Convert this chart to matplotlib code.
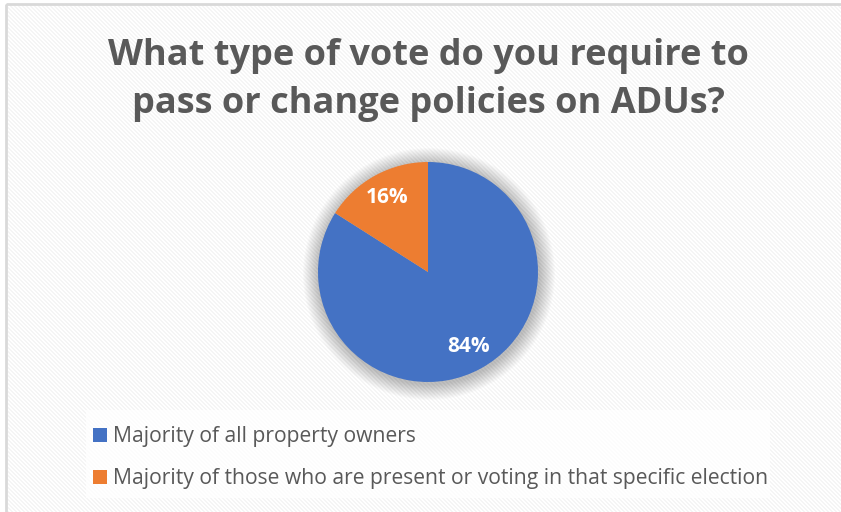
import numpy as np
import matplotlib
matplotlib.use('Agg')
import matplotlib.pyplot as plt
from matplotlib.patches import Rectangle, Circle

labels = ['Majority of all property owners',
          'Majority of those who are present or voting in that specific election']
shares = [84, 16]
colors = ['#4472c4', '#ed7d31']
title = 'What type of vote do you require to\npass or change policies on ADUs?'

W, H = 841, 512
plt.rcParams['font.family'] = ['Open Sans', 'DejaVu Sans']

fig = plt.figure(figsize=(W / 100, H / 100), dpi=100)
fig.patch.set_facecolor('white')


def px(x, y):
    # pixel position (top-left origin) -> figure fraction
    return x / W, 1 - y / H


# striped chart area with a grey outline
bg = fig.add_axes([0, 0, 1, 1], zorder=0)
yy, xx = np.mgrid[0:H, 0:W]
stripes = np.where((xx - yy) % 4 < 2, 0.96, 1.0)
stripes[:4, :] = 1.0
stripes[:, :6] = 1.0
bg.imshow(stripes, cmap='gray', vmin=0, vmax=1, extent=(0, W, H, 0),
          interpolation='nearest', aspect='auto')
bg.set_xlim(0, W)
bg.set_ylim(H, 0)
bg.axis('off')
bg.add_patch(Rectangle((6, 4), W + 20, H + 20, facecolor='none', edgecolor='#d9d9d9', lw=2))
bg.add_patch(Rectangle((86, 410), 684, 88, facecolor='white', edgecolor='none', alpha=0.7))

# soft shadow round the pie
cx, cy, r = 428, 272, 110
for k in range(16):
    bg.add_patch(Circle((cx + 1, cy + 2), r + 16 - k, facecolor='#000000',
                        edgecolor='none', alpha=0.014))

fig.text(*px(428, 80), title, ha='center', va='center', fontsize=26, fontweight='bold',
         color='#595959', linespacing=1.45)

x0, y1 = px(cx - r, cy + r)
ax = fig.add_axes([x0, y1, 2 * r / W, 2 * r / H], zorder=2)
wedges, _, autotexts = ax.pie(shares, colors=colors, startangle=90, counterclock=False,
                              autopct='%d%%', pctdistance=0.77,
                              wedgeprops=dict(edgecolor='none', linewidth=0))
for t in autotexts:
    t.set_color('white')
    t.set_fontsize(15)
    t.set_fontweight('bold')
ax.set_xlim(-1, 1)
ax.set_ylim(-1, 1)
ax.set_aspect('equal')
ax.axis('off')

leg = fig.legend(wedges, labels, loc='upper left', bbox_to_anchor=px(85, 418),
                 frameon=False, fontsize=15.2, handlelength=0.62, handleheight=0.62,
                 handletextpad=0.3, labelspacing=0.98, borderaxespad=0)
for t in leg.get_texts():
    t.set_color('#595959')
for h in leg.legend_handles:
    h.set_edgecolor('none')

fig.savefig('out.png', dpi=100)
